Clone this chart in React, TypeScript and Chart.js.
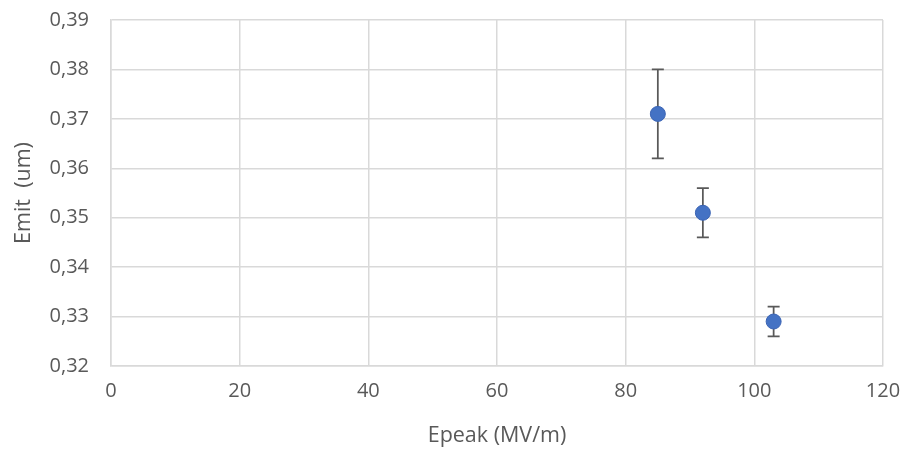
import React, { useEffect, useRef } from "react";
import { Chart, registerables } from "chart.js";

Chart.register(...registerables);

const xValues = [85, 92, 103];
const yValues = [0.371, 0.351, 0.329];
const yErrLow = [0.362, 0.346, 0.326];
const yErrHigh = [0.38, 0.356, 0.332];
const xTitle = "Epeak (MV/m)";
const yTitle = "Emit  (um)";

const FONT = "'Open Sans', 'Noto Sans', sans-serif";
const TEXT = "#595959";
const GRID = "#d9d9d9";

const errorBarPlugin = {
  id: "errorBars",
  beforeDatasetsDraw(chart: any) {
    const { ctx, scales } = chart;
    const xs = scales.x;
    const ys = scales.y;
    ctx.save();
    ctx.strokeStyle = "#595959";
    ctx.lineWidth = 1.75;
    for (let i = 0; i < xValues.length; i++) {
      const px = xs.getPixelForValue(xValues[i]);
      const lo = ys.getPixelForValue(yErrLow[i]);
      const hi = ys.getPixelForValue(yErrHigh[i]);
      ctx.beginPath();
      ctx.moveTo(px, lo);
      ctx.lineTo(px, hi);
      ctx.moveTo(px - 6, lo);
      ctx.lineTo(px + 6, lo);
      ctx.moveTo(px - 6, hi);
      ctx.lineTo(px + 6, hi);
      ctx.stroke();
    }
    ctx.restore();
  },
};

export default function App() {
  const ref = useRef<HTMLCanvasElement | null>(null);
  useEffect(() => {
    if (!ref.current) return;
    const chart = new Chart(ref.current, {
      type: "scatter",
      data: {
        datasets: [
          {
            data: xValues.map((x, i) => ({ x, y: yValues[i] })),
            backgroundColor: "#4472C4",
            borderColor: "#3b64b4",
            borderWidth: 1,
            pointRadius: 7.5,
            pointHoverRadius: 7.5,
          },
        ],
      },
      options: {
        animation: false,
        responsive: false,
        maintainAspectRatio: false,
        layout: { padding: { top: 20, right: 24, left: 0, bottom: 0 } },
        plugins: { legend: { display: false }, tooltip: { enabled: false } },
        scales: {
          x: {
            type: "linear",
            min: 0,
            max: 120,
            ticks: {
              stepSize: 20,
              color: TEXT,
              font: { family: FONT, size: 20 },
              padding: 13,
              maxRotation: 0,
            },
            grid: { color: GRID, lineWidth: 1.5, drawTicks: false },
            border: { color: GRID, width: 1.5 },
            title: {
              display: true,
              text: xTitle,
              color: TEXT,
              font: { family: FONT, size: 21.5 },
              padding: { top: 0, bottom: 2 },
            },
            afterFit(scale: any) {
              scale.height = 85;
              scale.paddingLeft = 0;
              scale.paddingRight = 0;
            },
          },
          y: {
            type: "linear",
            min: 0.32,
            max: 0.39,
            ticks: {
              stepSize: 0.01,
              color: TEXT,
              font: { family: FONT, size: 20 },
              padding: 22,
              callback: (v: any) => Number(v).toFixed(2).replace(".", ","),
            },
            grid: { color: GRID, lineWidth: 1.5, drawTicks: false },
            border: { color: GRID, width: 1.5 },
            title: {
              display: true,
              text: yTitle,
              color: TEXT,
              font: { family: FONT, size: 21.5 },
              padding: { top: 11, bottom: 0 },
            },
            afterFit(scale: any) {
              scale.width = 111;
              scale.paddingTop = 0;
              scale.paddingBottom = 0;
            },
          },
        },
      },
      plugins: [errorBarPlugin],
    });
    return () => chart.destroy();
  }, []);
  return (
    <div style={{ position: "fixed", left: 0, top: 0, width: 907, height: 451, background: "#fff" }}>
      <canvas ref={ref} width={907} height={451} style={{ width: 907, height: 451 }} />
    </div>
  );
}
